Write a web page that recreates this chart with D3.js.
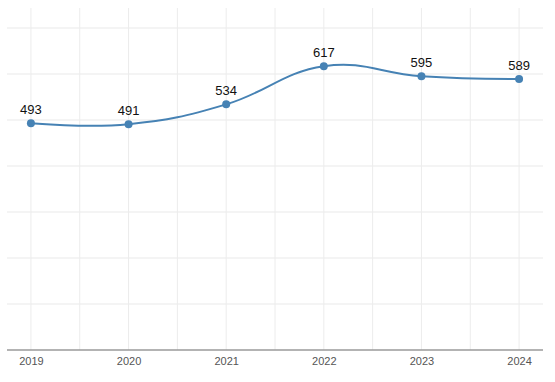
<!DOCTYPE html>
<html><head><meta charset="utf-8">
<script src="https://cdn.jsdelivr.net/npm/d3@7"></script>
<style>
html,body{margin:0;padding:0;background:#fff;}
svg{display:block;font-family:"Liberation Sans",Arial,sans-serif;}
</style></head>
<body><svg id="chart" width="555" height="382"></svg>
<script>
const years = ["2019","2020","2021","2022","2023","2024"];
const values = [493, 491, 534, 617, 595, 589];
const yTicks = [0, 100, 200, 300, 400, 500, 600, 700];

(function () {
const svg = d3.select("#chart");
const mLeft = 7, mRight = 543, mTop = 8, mBottom = 350;

const x = d3.scalePoint().domain(years).range([mLeft, mRight]).padding(0.245);
const y = d3.scaleLinear().domain([0, 700]).range([mBottom, 28]);

// horizontal grid
svg.append("g").selectAll("line").data(yTicks.slice(1)).join("line")
  .attr("x1", mLeft).attr("x2", mRight)
  .attr("y1", d => y(d)).attr("y2", d => y(d))
  .attr("stroke", "#f0f0f0").attr("stroke-width", 1.5);

// vertical grid (major + minor)
const step = x.step();
const vx = [];
years.forEach((yr, i) => {
  vx.push(x(yr));
  if (i < years.length - 1) vx.push(x(yr) + step / 2);
});
svg.append("g").selectAll("line").data(vx).join("line")
  .attr("x1", d => d).attr("x2", d => d)
  .attr("y1", mTop).attr("y2", mBottom)
  .attr("stroke", "#ececec").attr("stroke-width", 1);

// x axis
const xAxis = svg.append("g").attr("transform", `translate(0,${mBottom})`)
  .call(d3.axisBottom(x).tickSize(0).tickPadding(7));
xAxis.select(".domain").attr("stroke", "#9a9a9a").attr("stroke-width", 1.5)
  .attr("d", `M${mLeft},0H${mRight}`);
xAxis.selectAll("text").attr("fill", "#555").attr("font-size", 11)
  .attr("font-family", "Liberation Sans, Arial, sans-serif");

// line
const data = years.map((yr, i) => ({yr, v: values[i]}));
const line = d3.line().x(d => x(d.yr)).y(d => y(d.v)).curve(d3.curveCardinal.tension(-0.25));
svg.append("path").datum(data).attr("d", line)
  .attr("fill", "none").attr("stroke", "#4682b4").attr("stroke-width", 2);

svg.append("g").selectAll("circle").data(data).join("circle")
  .attr("cx", d => x(d.yr)).attr("cy", d => y(d.v)).attr("r", 4)
  .attr("fill", "#4682b4");

svg.append("g").selectAll("text").data(data).join("text")
  .attr("x", d => x(d.yr)).attr("y", d => y(d.v) - 9)
  .attr("text-anchor", "middle").attr("font-size", 13).attr("fill", "#111")
  .text(d => d.v);
})();
</script></body></html>
